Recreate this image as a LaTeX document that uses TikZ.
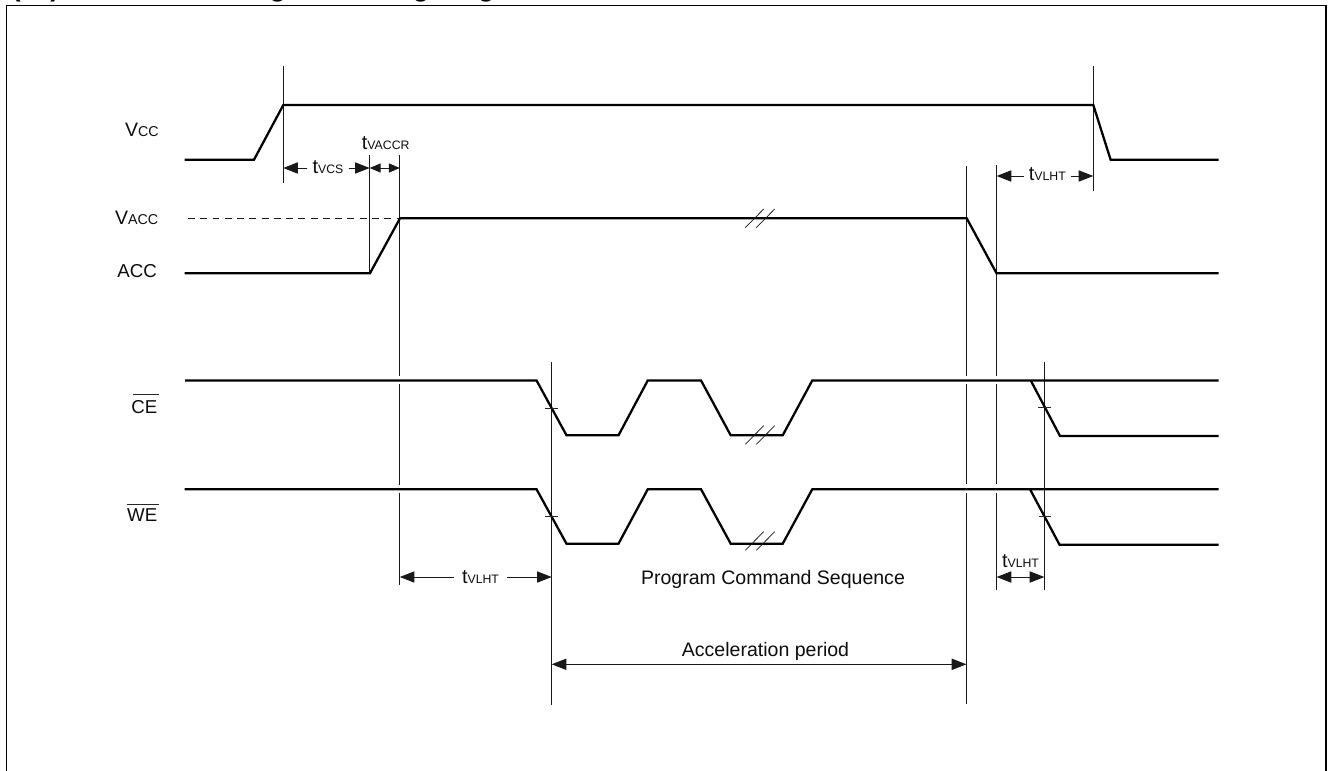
\documentclass[tikz,border=0pt]{standalone}
\usepackage{fontspec}
\setmainfont{Liberation Sans}
\usetikzlibrary{arrows.meta,calc}
\newcommand{\tsub}[1]{{\fontsize{15}{18}\selectfont t}{\fontsize{9.2}{11}\selectfont #1}}
\newcommand{\vsub}[1]{{\fontsize{14.6}{18}\selectfont V}{\fontsize{10.7}{13}\selectfont #1}}
\tikzset{
  frameline/.style={line width=1.05pt,black},
  trace/.style={line width=1.7pt,black,line join=miter},
  guide/.style={line width=0.72pt,black!90},
  thin tick/.style={line width=0.65pt,black!85},
  slash/.style={line width=0.55pt,black!90},
  dimtip/.style={line width=0.72pt,black!90,-{Triangle[length=11pt,width=8.4pt]}},
  dimsmall/.style={line width=0.72pt,black!90,{Triangle[length=8.2pt,width=6.8pt]}-{Triangle[length=8.2pt,width=6.8pt]}},
  dimboth/.style={line width=0.72pt,black!90,{Triangle[length=11pt,width=8.4pt]}-{Triangle[length=11pt,width=8.4pt]}},
  sig/.style={anchor=base east,inner sep=0pt,text=black!95,font=\fontsize{14}{17}\selectfont},
  dimlabel/.style={anchor=base,inner ysep=0pt,inner xsep=3.7pt,text=black!95},
  plain/.style={anchor=base,inner sep=0pt,text=black!95,font=\fontsize{14.65}{18}\selectfont},
  title/.style={anchor=base west,inner sep=0pt,font=\bfseries\fontsize{20}{24}\selectfont}
}
\begin{document}
\begin{tikzpicture}[x=0.75pt,y=-0.75pt]
\useasboundingbox (0,0) rectangle (1328,771);
\node[title] (ttl) at (11.5,-3) {(14) Accelerated Program Timing Diagram};
% frame
\coordinate (fa) at (6.5,771); \coordinate (fb) at (6.5,5.3); \coordinate (fc) at (1326,5.3); \coordinate (fd) at (1326,771);
\draw[frameline] (fa) -- (fb) -- (fc) -- (fd);
% signal labels
\node[sig] (lvcc) at (159,136) {\vsub{CC}};
\node[sig] (lvacc) at (158.5,224) {\vsub{ACC}};
\node[sig] (lacc) at (157,277.6) {ACC};
\node[sig] (lce) at (157.5,413.3) {CE};
\node[sig] (lwe) at (157.5,521.7) {WE};
\coordinate (oce1) at (133,394.3); \coordinate (oce2) at (158.7,394.3);
\coordinate (owe1) at (127,504); \coordinate (owe2) at (158.7,504);
\draw[thin tick] (oce1) -- (oce2);
\draw[thin tick] (owe1) -- (owe2);
% guides
\foreach \n/\x/\ya/\yb in {g1/283.2/66/183, g2/369.7/155/273, g3/399.8/155/375.7, g4/399.8/384/484.7, g5/399.8/492.7/584.7,
  g6/551.7/362.3/705.3, g7/966.4/166/375.7, g8/966.4/384/484.3, g9/966.4/493.3/703.7,
  g10/996.6/165/375.7, g11/996.6/384/484.3, g12/996.6/493.3/590, g13/1044.4/362/590, g14/1093.3/66/190.7}{
  \coordinate (\n a) at (\x,\ya); \coordinate (\n b) at (\x,\yb);
  \draw[guide] (\n a) -- (\n b);
}
% traces
\draw[trace] (184.5,159.7) -- (254,159.7) -- (283.3,105) -- (1093.3,105) -- (1110.6,159.7) -- (1218.5,159.7);
\draw[line width=0.6pt,black!90,dash pattern=on 5.2pt off 4pt] (188,218.3) -- (400,218.3);
\draw[trace] (184.5,273.2) -- (370,273.2) -- (400,218.3) -- (966.7,218.3) -- (996.5,273.2) -- (1218.5,273.2);
\draw[trace] (185,380.4) -- (536.5,380.4) -- (566.5,435.3) -- (618.5,435.3) -- (647.8,380.4) -- (701,380.4) -- (730.7,435.3) -- (782.7,435.3) -- (812.3,380.4) -- (1218.5,380.4);
\draw[trace] (1030.7,380.4) -- (1060,436) -- (1218.5,436);
\draw[trace] (184.5,489.2) -- (536.5,489.2) -- (566.5,543.7) -- (618.5,543.7) -- (647.8,489.2) -- (701,489.2) -- (730.7,543.7) -- (782.7,543.7) -- (812.3,489.2) -- (1218.5,489.2);
\draw[trace] (1030,489.2) -- (1059.5,544.7) -- (1218.5,544.7);
% ticks
\draw[thin tick] (544.7,408.3) -- (557.7,408.3);
\draw[thin tick] (544.7,516.7) -- (557.7,516.7);
\draw[thin tick] (1038.3,407) -- (1050.7,407);
\draw[thin tick] (1038.7,516.7) -- (1051,516.7);
% break marks
\foreach \y in {227.6,444.3,550.3}{
  \draw[slash] (745.3,\y) -- ++(18.4,-18.6);
  \draw[slash] (756.3,\y) -- ++(18.4,-18.6);
}
% dimension: tVCS
\coordinate (dvcsl) at (283.2,168); \coordinate (dvcsr) at (369.7,168);
\node[dimlabel] (tvcs) at (328,173.3) {\tsub{VCS}};
\draw[dimtip] (tvcs.west |- dvcsl) -- (dvcsl);
\draw[dimtip] (tvcs.east |- dvcsr) -- (dvcsr);
% dimension: tVACCR
\coordinate (dacl) at (369.7,168); \coordinate (dacr) at (399.8,168);
\draw[dimsmall] (dacl) -- (dacr);
\node[dimlabel,inner xsep=0pt] (tvaccr) at (385.7,149) {\tsub{VACCR}};
% dimension: tVLHT top
\coordinate (dtl) at (996.6,176); \coordinate (dtr) at (1093.3,176);
\node[dimlabel] (tv1) at (1047.3,180.7) {\tsub{VLHT}};
\draw[dimtip] (tv1.west |- dtl) -- (dtl);
\draw[dimtip] (tv1.east |- dtr) -- (dtr);
% dimension: tVLHT left
\coordinate (dll) at (399.8,577); \coordinate (dlr) at (551.7,577);
\node[dimlabel,inner xsep=6pt] (tv2) at (480.5,583) {\tsub{VLHT}};
\draw[dimtip] (tv2.west |- dll) -- (dll);
\draw[dimtip] (tv2.east |- dlr) -- (dlr);
% dimension: tVLHT right
\coordinate (drl) at (996.6,577); \coordinate (drr) at (1044.4,577);
\draw[dimboth] (drl) -- (drr);
\node[dimlabel,inner xsep=0pt] (tv3) at (1020.5,567.3) {\tsub{VLHT}};
% texts
\node[plain] (pcs) at (773,584.3) {Program Command Sequence};
\coordinate (apl) at (551.7,664.3); \coordinate (apr) at (966.4,664.3);
\draw[dimboth] (apl) -- (apr);
\node[plain] (ap) at (765.5,656.7) {Acceleration period};
\end{tikzpicture}
\end{document}
